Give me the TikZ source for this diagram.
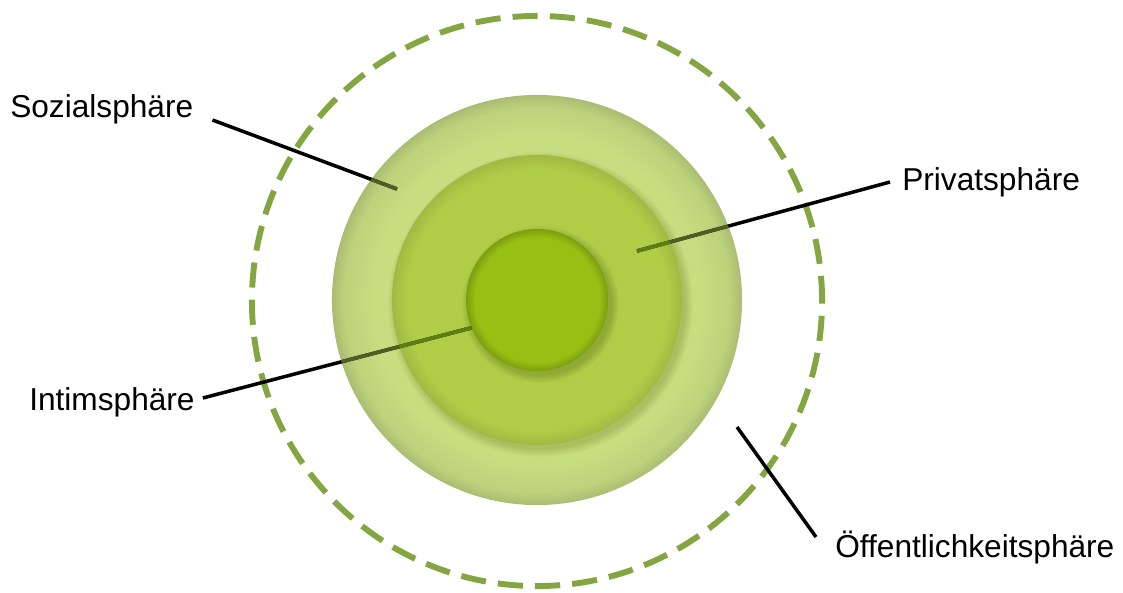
\documentclass[tikz,border=0pt]{standalone}
\usepackage{fontspec}
\setmainfont{Liberation Sans}
\usepackage{tikz}
\definecolor{dashgreen}{HTML}{84A642}
\definecolor{sozin}{HTML}{C6DD80}
\definecolor{sozmid}{HTML}{BDD27B}
\definecolor{sozout}{HTML}{ABBC72}
\definecolor{privin}{HTML}{B0CD48}
\definecolor{privout}{HTML}{A0BA42}
\definecolor{intin}{HTML}{97BF14}
\definecolor{intout}{HTML}{7C9E0E}
\definecolor{privhalo}{HTML}{A9BF62}
\definecolor{inthalo}{HTML}{8FAA36}
\definecolor{leadsoz}{HTML}{4D5F22}
\definecolor{leadpriv}{HTML}{5E7E10}
% ring shadings: flat centre, darker rim (edge of the path at 25bp)
\pgfdeclareradialshading{sozshade}{\pgfpointorigin}{color(0bp)=(sozin); color(20bp)=(sozin); color(23.5bp)=(sozmid); color(25bp)=(sozout); color(50bp)=(sozout)}
\pgfdeclareradialshading{privshade}{\pgfpointorigin}{color(0bp)=(privin); color(22.5bp)=(privin); color(25bp)=(privout); color(50bp)=(privout)}
\pgfdeclareradialshading{intshade}{\pgfpointorigin}{color(0bp)=(intin); color(22bp)=(intin); color(25bp)=(intout); color(50bp)=(intout)}
% soft shadows round the inner rings
\pgfdeclareradialshading{privhaloshade}{\pgfpointorigin}{color(0bp)=(privhalo); color(23.6bp)=(privhalo); color(25bp)=(sozin); color(50bp)=(sozin)}
\pgfdeclareradialshading{inthaloshade}{\pgfpointorigin}{color(0bp)=(inthalo); color(22.4bp)=(inthalo); color(25bp)=(privin); color(50bp)=(privin)}

\begin{document}
\begin{tikzpicture}[
  x=0.025cm,y=-0.025cm,
  ring/.style={circle,inner sep=0pt,outer sep=0pt},
  lbl/.style={inner sep=0pt,font=\fontsize{22.5}{27}\selectfont},
  lead/.style={line width=2.5pt}]
\useasboundingbox (0,0) rectangle (1123,592);
\coordinate (c) at (537,300);
% spheres
\node[ring,minimum size=14.25cm,draw=dashgreen,line width=4.2pt,
      dash pattern=on 17.9pt off 8.6pt] (oeff) at (537,301) {};
\node[ring,minimum size=10.25cm,shading=sozshade] (sozial) at (c) {};
\path[shading=privhaloshade] ([shift={(3,4)}]c) circle (153);
\node[ring,minimum size=7.25cm,shading=privshade] (privat) at (c) {};
\path[shading=inthaloshade] ([shift={(3,4)}]c) circle (79);
\node[ring,minimum size=3.55cm,shading=intshade] (intim) at (c) {};

% labels
\node[lbl,anchor=base west] (sozlbl) at (10,117) {Sozialsphäre};
\node[lbl,anchor=base west] (privlbl) at (902,190) {Privatsphäre};
\node[lbl,anchor=base west] (intlbl) at (29,410) {Intimsphäre};
\node[lbl,anchor=base west] (oefflbl) at (835,557) {Öffentlichkeitsphäre};
\coordinate (sozpt) at (397,189);
\coordinate (privpt) at (637,251);
\coordinate (oeffpt) at (737,427);

% leader lines
\draw[lead] ([shift={(19,3)}]sozlbl.base east) -- (sozpt);
\draw[lead] ([shift={(-12,-8)}]privlbl.base west) -- (privpt);
\draw[lead] ([shift={(8,-12)}]intlbl.base east) -- (intim.203);
\draw[lead] ([shift={(-19,-20)}]oefflbl.base west) -- (oeffpt);
\begin{scope}
  \clip (c) circle (205);
  \draw[lead,draw=leadsoz] ([shift={(19,3)}]sozlbl.base east) -- (sozpt);
  \draw[lead,draw=leadsoz] ([shift={(-12,-8)}]privlbl.base west) -- (privpt);
  \draw[lead,draw=leadsoz] ([shift={(8,-12)}]intlbl.base east) -- (intim.203);
  \clip (c) circle (145);
  \draw[lead,draw=leadpriv] ([shift={(-12,-8)}]privlbl.base west) -- (privpt);
  \draw[lead,draw=leadpriv] ([shift={(8,-12)}]intlbl.base east) -- (intim.203);
\end{scope}
\end{tikzpicture}
\end{document}
